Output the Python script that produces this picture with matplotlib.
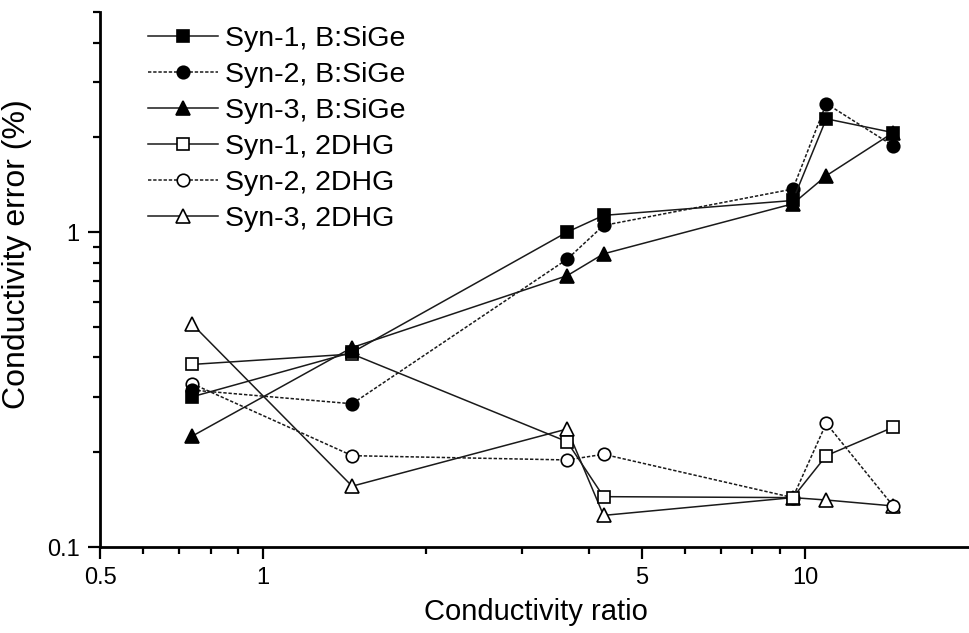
import numpy as np
import matplotlib
matplotlib.use('Agg')
import matplotlib.pyplot as plt
from matplotlib.ticker import LogLocator, FixedLocator, FixedFormatter, NullFormatter

plt.rcParams['font.family'] = ['Liberation Sans', 'DejaVu Sans']

# conductivity ratio (x) shared by all series
ratio = [0.74, 1.46, 3.64, 4.25, 9.5, 10.95, 14.55]

# conductivity error (%) per series
syn1_sige = [0.30, 0.415, 1.0, 1.13, 1.26, 2.29, 2.07]
syn2_sige = [0.315, 0.285, 0.82, 1.05, 1.37, 2.56, 1.88]
syn3_sige = [0.225, 0.43, 0.727, 0.853, 1.23, 1.51, 2.07]
syn1_2dhg = [0.38, 0.41, 0.216, 0.1445, 0.1435, 0.195, 0.24]
syn2_2dhg = [0.33, 0.195, 0.189, 0.197, 0.1435, 0.247, 0.135]
syn3_2dhg = [0.51, 0.156, 0.237, 0.126, 0.1435, 0.141, 0.135]

labels = ['Syn-1, B:SiGe', 'Syn-2, B:SiGe', 'Syn-3, B:SiGe',
          'Syn-1, 2DHG', 'Syn-2, 2DHG', 'Syn-3, 2DHG']

fig = plt.figure(figsize=(9.69, 6.33), dpi=100)
ax = fig.add_axes([100/969, 1 - 547/633, 868/969, 535/633])

dotted = (0, (2.2, 1.2))
# (data, marker, filled, linestyle, markersize)
series = [
    (syn1_sige, 's', True, '-', 8),
    (syn2_sige, 'o', True, dotted, 9),
    (syn3_sige, '^', True, '-', 10),
    (syn1_2dhg, 's', False, '-', 8),
    (syn2_2dhg, 'o', False, dotted, 9),
    (syn3_2dhg, '^', False, '-', 10),
]

handles = []
for i, (vals, mk, filled, ls, ms) in enumerate(series):
    z = 4 if filled else 3
    h, = ax.plot(ratio, vals, linestyle=ls, color='#1a1a1a', lw=1.1,
                 marker=mk, markersize=ms,
                 markerfacecolor='black' if filled else 'white',
                 markeredgecolor='black', markeredgewidth=1.2, zorder=z - i * 0.1)
    handles.append(h)

ax.set_xscale('log')
ax.set_yscale('log')
ax.set_xlim(0.5, 20)
ax.set_ylim(0.1, 5)

ax.xaxis.set_major_locator(FixedLocator([0.5, 1, 5, 10]))
ax.xaxis.set_major_formatter(FixedFormatter(['0.5', '1', '5', '10']))
ax.xaxis.set_minor_locator(FixedLocator([0.6, 0.7, 0.8, 0.9, 2, 3, 4, 6, 7, 8, 9]))
ax.xaxis.set_minor_formatter(NullFormatter())
ax.yaxis.set_major_locator(FixedLocator([0.1, 1]))
ax.yaxis.set_major_formatter(FixedFormatter(['0.1', '1']))
ax.yaxis.set_minor_locator(LogLocator(base=10, subs=np.arange(2, 10), numticks=10))
ax.yaxis.set_minor_formatter(NullFormatter())

for s in ['top', 'right']:
    ax.spines[s].set_visible(False)
for s in ['left', 'bottom']:
    ax.spines[s].set_linewidth(2)

ax.tick_params(which='major', direction='out', length=8.5, width=1.6,
               labelsize=17, pad=6)
ax.tick_params(which='minor', direction='out', length=5, width=1.6)

ax.set_xlabel('Conductivity ratio', fontsize=21)
ax.xaxis.set_label_coords(0.502, -0.095)
ax.set_ylabel('Conductivity error (%)', fontsize=23)
ax.yaxis.set_label_coords(-0.078, 0.548)

ax.legend(handles, labels, loc='upper left', bbox_to_anchor=(0.036, 1.005),
          frameon=False, fontsize=20.5, handlelength=2.45, handletextpad=0.25,
          labelspacing=0.35, borderaxespad=0.2, numpoints=1)

fig.savefig('out.png', dpi=100)
